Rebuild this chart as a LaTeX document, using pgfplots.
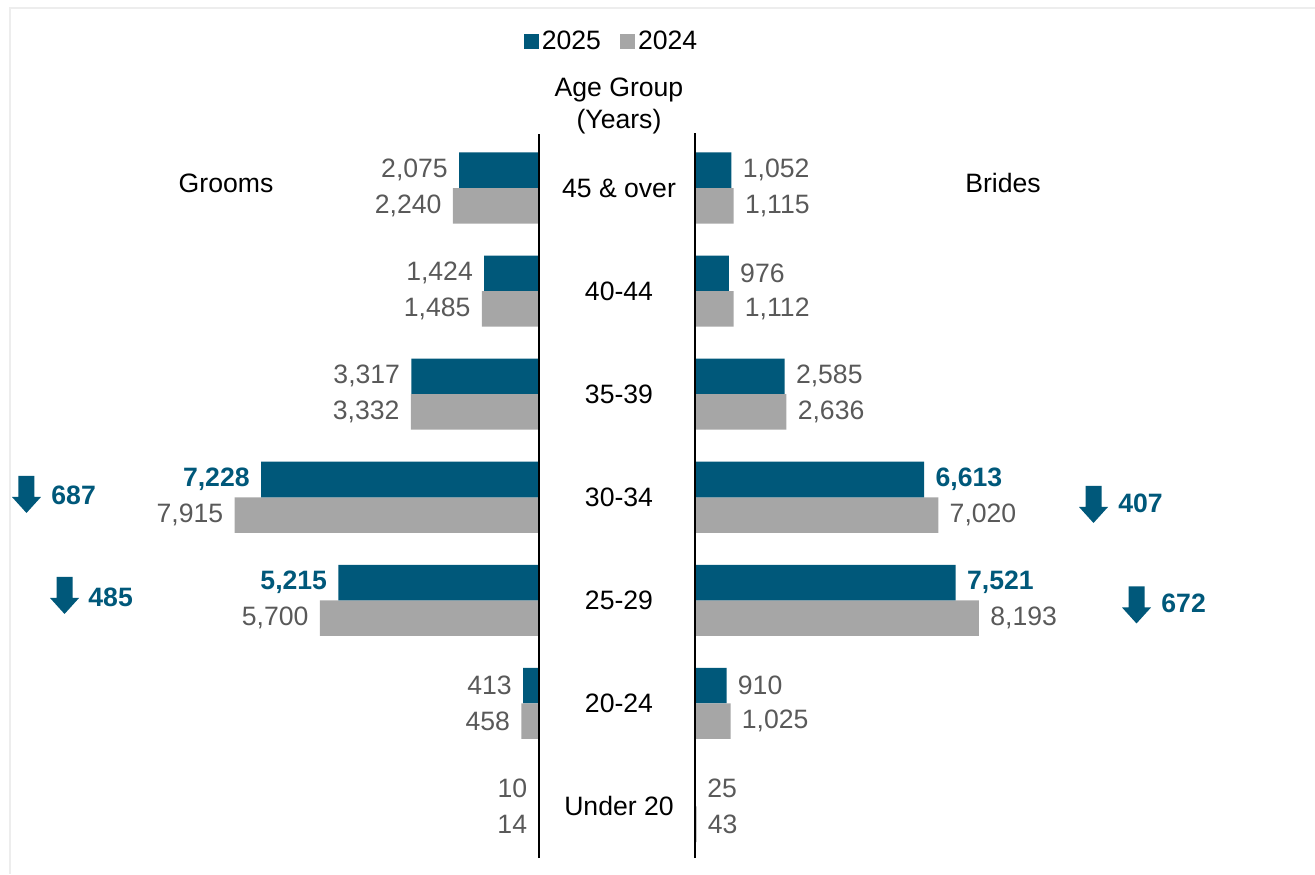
\documentclass[border=0pt]{standalone}
\usepackage{pgfplots}
\pgfplotsset{compat=1.18}
\usepackage{fontspec}
\setmainfont{Liberation Sans}
\definecolor{c25}{RGB}{0,88,122}
\definecolor{c24}{RGB}{166,166,166}
\definecolor{lbl}{RGB}{89,89,89}
\newcommand\lab{\fontsize{13.3}{16}\selectfont}
\newcommand\darrow[1]{\fill[c25] (#1) ++(-4pt,9.25pt) -- ++(8pt,0pt) -- ++(0pt,-10.5pt) -- ++(3.25pt,0pt) -- ++(-7.25pt,-8pt) -- ++(-7.25pt,8pt) -- ++(3.25pt,0pt) -- cycle;}
\pgfplotsset{
  pyr/.style={scale only axis, height=360.75pt, ymin=-0.5, ymax=6.5, xmin=0,
    hide axis, clip=false, xbar, bar width=0.345,
    /pgf/number format/assume math mode=true,
    /pgf/number format/1000 sep={,},
    nodes near coords,
    every node near coord/.append style={font=\lab, text=lbl, inner sep=0pt}},
  bluelab/.style={every node near coord/.append style={text=c25, font=\lab\bfseries}},
}
\begin{document}
\begin{tikzpicture}
\useasboundingbox (0,0) rectangle (657.5pt,437pt);
\draw[black!7, line width=0.75pt] (5pt,0) -- (5pt,433pt) -- (657.5pt,433pt);
% ---------- Grooms (left) ----------
\begin{axis}[pyr, at={(0pt,8pt)}, anchor=south west, width=269.5pt,
  xmax=14015, x dir=reverse,
  every node near coord/.append style={anchor=east, xshift=-5.5pt},
  legend style={at={(1.1355,1.131)}, anchor=center, draw=none, fill=none,
    legend columns=2, font=\lab, nodes={inner sep=1.5pt},
    /tikz/every even column/.append style={column sep=8pt}},
  legend image code/.code={\fill[#1,draw=none] (0pt,-3.75pt) rectangle (7.5pt,3.75pt);},
]
\addplot[fill=c25, draw=none, bar shift=0.1725] coordinates
  {(2075,6) (1424,5) (3317,4) (413,1) (10,0)};
\addlegendentry{2025}
\addplot[fill=c24, draw=none, bar shift=-0.1725] coordinates
  {(2240,6) (1485,5) (3332,4) (7915,3) (5700,2) (458,1) (14,0)};
\addlegendentry{2024}
\addplot[fill=c25, draw=none, bar shift=0.1725, bluelab, forget plot] coordinates
  {(7228,3) (5215,2)};
\draw[line width=0.75pt] (axis cs:0,-0.5) -- (axis cs:0,6.52);
\node[font=\lab] at (axis cs:8138,6.049) {Grooms};
\node[font=\lab, align=center] at (axis cs:-2080,6.796) {Age Group\\(Years)};
\node[font=\lab] at (axis cs:-2080,6) {45 \& over};
\node[font=\lab] at (axis cs:-2080,5) {40-44};
\node[font=\lab] at (axis cs:-2080,4) {35-39};
\node[font=\lab] at (axis cs:-2080,3) {30-34};
\node[font=\lab] at (axis cs:-2080,2) {25-29};
\node[font=\lab] at (axis cs:-2080,1) {20-24};
\node[font=\lab] at (axis cs:-2080,0) {Under 20};
\darrow{axis cs:13326,3.027}
\node[font=\lab\bfseries, text=c25, anchor=west, inner sep=0pt] at (axis cs:12688,3.022) {687};
\darrow{axis cs:12337,2.047}
\node[font=\lab\bfseries, text=c25, anchor=west, inner sep=0pt] at (axis cs:11726,2.032) {485};
\end{axis}
% ---------- Brides (right) ----------
\begin{axis}[pyr, at={(347.5pt,8pt)}, anchor=south west, width=310pt,
  xmax=17888,
  every node near coord/.append style={anchor=west, xshift=5.5pt},
]
\addplot[fill=c25, draw=none, bar shift=0.1725] coordinates
  {(1052,6) (976,5) (2585,4) (910,1) (25,0)};
\addplot[fill=c24, draw=none, bar shift=-0.1725] coordinates
  {(1115,6) (1112,5) (2636,4) (7020,3) (8193,2) (1025,1) (43,0)};
\addplot[fill=c25, draw=none, bar shift=0.1725, bluelab] coordinates
  {(6613,3) (7521,2)};
\draw[line width=0.75pt] (axis cs:0,-0.5) -- (axis cs:0,6.53);
\node[font=\lab] at (axis cs:8886,6.049) {Brides};
\darrow{axis cs:11497,2.930}
\node[font=\lab\bfseries, text=c25, anchor=west, inner sep=0pt] at (axis cs:12204,2.944) {407};
\darrow{axis cs:12738,1.955}
\node[font=\lab\bfseries, text=c25, anchor=west, inner sep=0pt] at (axis cs:13445,1.974) {672};
\end{axis}
\end{tikzpicture}
\end{document}
